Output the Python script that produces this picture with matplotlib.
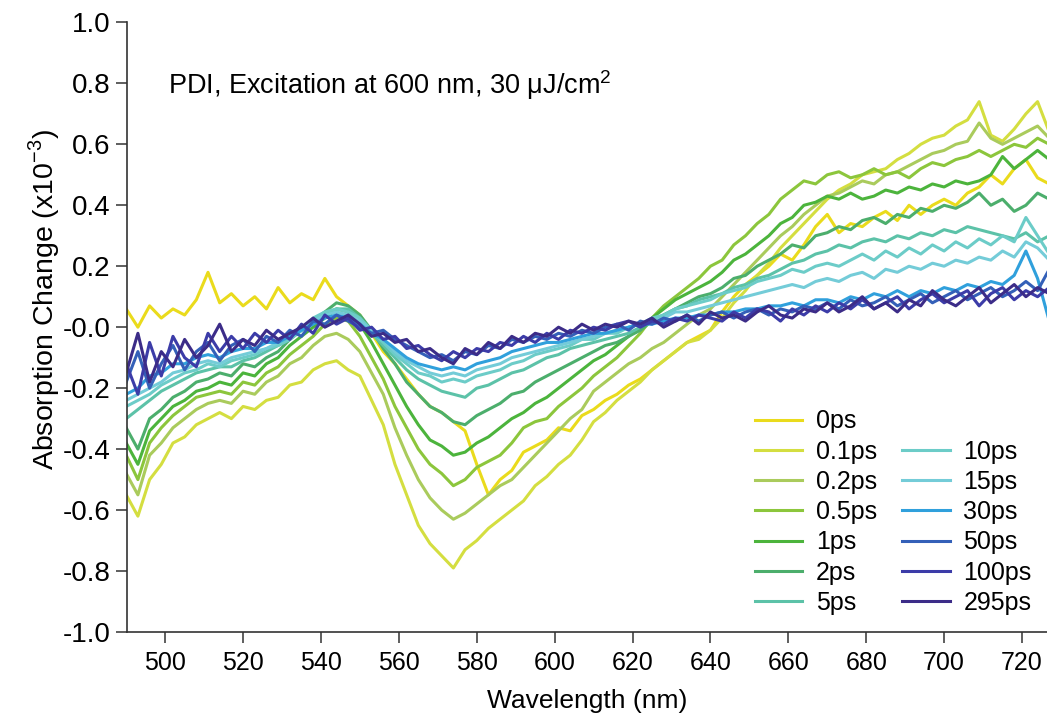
#!/usr/bin/env python3
"""
Transient absorption spectra of PDI at several pump-probe delays.
"""

import numpy as np
import matplotlib
matplotlib.use("Agg")
import matplotlib.pyplot as plt
from matplotlib.lines import Line2D

# probe wavelength grid (nm), 3 nm steps
wavelength = np.arange(490, 728, 3)

delays = ["0ps", "0.1ps", "0.2ps", "0.5ps", "1ps", "2ps", "5ps",
          "10ps", "15ps", "30ps", "50ps", "100ps", "295ps"]

colors = ["#EADB1C", "#D4DE40", "#AACB5C", "#8CC63C", "#4CB43C", "#4CAE6C", "#5CC2A8",
          "#6CCCC8", "#74CCD8", "#30A0DC", "#3460B8", "#3C3CA8", "#3C2C88"]

s_0ps = [0.06, 0.00, 0.07, 0.03, 0.06, 0.04, 0.09, 0.18, 0.08, 0.11,
         0.07, 0.10, 0.06, 0.13, 0.08, 0.11, 0.09, 0.16, 0.10, 0.07,
         0.04, -0.02, -0.08, -0.12, -0.17, -0.22, -0.26, -0.28, -0.31, -0.34,
         -0.45, -0.55, -0.50, -0.47, -0.41, -0.39, -0.37, -0.33, -0.34, -0.29,
         -0.27, -0.24, -0.22, -0.19, -0.17, -0.14, -0.11, -0.08, -0.05, -0.03,
         -0.01, 0.05, 0.10, 0.14, 0.17, 0.20, 0.24, 0.22, 0.27, 0.33,
         0.37, 0.31, 0.34, 0.33, 0.36, 0.38, 0.35, 0.40, 0.37, 0.40,
         0.42, 0.40, 0.44, 0.46, 0.50, 0.47, 0.52, 0.55, 0.49, 0.47]

s_01ps = [-0.55, -0.62, -0.50, -0.45, -0.38, -0.36, -0.32, -0.30, -0.28, -0.30,
          -0.26, -0.27, -0.24, -0.23, -0.19, -0.18, -0.14, -0.12, -0.11, -0.14,
          -0.16, -0.24, -0.32, -0.45, -0.55, -0.65, -0.71, -0.75, -0.79, -0.73,
          -0.70, -0.66, -0.63, -0.60, -0.57, -0.52, -0.49, -0.45, -0.42, -0.37,
          -0.31, -0.28, -0.24, -0.21, -0.18, -0.14, -0.11, -0.08, -0.05, -0.04,
          -0.01, 0.03, 0.08, 0.12, 0.17, 0.21, 0.26, 0.30, 0.34, 0.38,
          0.42, 0.45, 0.47, 0.50, 0.51, 0.52, 0.55, 0.57, 0.60, 0.62,
          0.63, 0.66, 0.68, 0.74, 0.63, 0.61, 0.65, 0.70, 0.74, 0.64]

s_02ps = [-0.48, -0.55, -0.42, -0.38, -0.33, -0.30, -0.27, -0.25, -0.24, -0.25,
          -0.21, -0.22, -0.18, -0.16, -0.12, -0.10, -0.06, -0.03, -0.02, -0.04,
          -0.08, -0.15, -0.22, -0.33, -0.42, -0.50, -0.56, -0.60, -0.63, -0.61,
          -0.58, -0.55, -0.52, -0.50, -0.46, -0.42, -0.38, -0.34, -0.30, -0.27,
          -0.21, -0.18, -0.15, -0.12, -0.10, -0.07, -0.05, -0.02, 0.01, 0.04,
          0.06, 0.10, 0.14, 0.18, 0.22, 0.26, 0.30, 0.33, 0.37, 0.40,
          0.43, 0.44, 0.46, 0.48, 0.47, 0.50, 0.51, 0.53, 0.55, 0.57,
          0.58, 0.60, 0.61, 0.67, 0.62, 0.60, 0.62, 0.64, 0.66, 0.62]

s_05ps = [-0.42, -0.50, -0.38, -0.33, -0.29, -0.26, -0.23, -0.22, -0.21, -0.22,
          -0.18, -0.19, -0.15, -0.13, -0.09, -0.06, -0.03, 0.01, 0.03, 0.02,
          -0.03, -0.10, -0.17, -0.26, -0.33, -0.40, -0.45, -0.48, -0.52, -0.50,
          -0.46, -0.44, -0.42, -0.38, -0.33, -0.31, -0.30, -0.26, -0.23, -0.20,
          -0.16, -0.13, -0.10, -0.06, -0.02, 0.03, 0.07, 0.10, 0.13, 0.16,
          0.20, 0.22, 0.27, 0.30, 0.34, 0.37, 0.42, 0.45, 0.48, 0.47,
          0.50, 0.51, 0.49, 0.50, 0.52, 0.50, 0.51, 0.49, 0.52, 0.54,
          0.53, 0.55, 0.56, 0.58, 0.56, 0.58, 0.60, 0.59, 0.62, 0.60]

s_1ps = [-0.38, -0.45, -0.34, -0.30, -0.26, -0.24, -0.21, -0.20, -0.18, -0.19,
         -0.15, -0.16, -0.12, -0.10, -0.06, -0.03, 0.00, 0.03, 0.06, 0.05,
         0.01, -0.05, -0.12, -0.19, -0.26, -0.32, -0.37, -0.39, -0.42, -0.41,
         -0.38, -0.36, -0.33, -0.30, -0.28, -0.25, -0.23, -0.20, -0.17, -0.14,
         -0.11, -0.09, -0.06, -0.03, 0.00, 0.03, 0.06, 0.09, 0.11, 0.13,
         0.15, 0.18, 0.22, 0.24, 0.27, 0.30, 0.34, 0.36, 0.40, 0.41,
         0.43, 0.42, 0.44, 0.42, 0.43, 0.45, 0.44, 0.46, 0.45, 0.47,
         0.46, 0.48, 0.47, 0.48, 0.50, 0.56, 0.52, 0.55, 0.58, 0.55]

s_2ps = [-0.33, -0.40, -0.30, -0.27, -0.23, -0.21, -0.18, -0.17, -0.15, -0.16,
         -0.12, -0.13, -0.10, -0.08, -0.04, -0.01, 0.02, 0.05, 0.08, 0.07,
         0.04, -0.01, -0.07, -0.12, -0.18, -0.22, -0.26, -0.28, -0.31, -0.32,
         -0.29, -0.27, -0.25, -0.22, -0.21, -0.18, -0.16, -0.14, -0.12, -0.10,
         -0.08, -0.06, -0.05, -0.03, -0.01, 0.02, 0.04, 0.06, 0.08, 0.10,
         0.11, 0.13, 0.16, 0.17, 0.20, 0.22, 0.24, 0.27, 0.26, 0.30,
         0.31, 0.33, 0.32, 0.35, 0.36, 0.34, 0.37, 0.36, 0.39, 0.38,
         0.40, 0.39, 0.41, 0.44, 0.40, 0.42, 0.38, 0.40, 0.44, 0.42]

s_5ps = [-0.30, -0.27, -0.24, -0.21, -0.19, -0.17, -0.15, -0.14, -0.13, -0.13,
         -0.11, -0.10, -0.08, -0.06, -0.04, -0.01, 0.02, 0.04, 0.06, 0.06,
         0.03, -0.02, -0.06, -0.10, -0.14, -0.17, -0.19, -0.21, -0.22, -0.23,
         -0.20, -0.19, -0.17, -0.15, -0.14, -0.12, -0.10, -0.09, -0.07, -0.06,
         -0.05, -0.04, -0.03, -0.02, 0.00, 0.02, 0.04, 0.06, 0.07, 0.09,
         0.10, 0.11, 0.13, 0.14, 0.16, 0.17, 0.19, 0.21, 0.22, 0.24,
         0.25, 0.27, 0.26, 0.28, 0.29, 0.28, 0.30, 0.29, 0.31, 0.30,
         0.32, 0.31, 0.33, 0.32, 0.31, 0.30, 0.29, 0.31, 0.28, 0.30]

s_10ps = [-0.26, -0.24, -0.22, -0.19, -0.17, -0.15, -0.14, -0.12, -0.13, -0.11,
          -0.10, -0.09, -0.07, -0.06, -0.04, -0.01, 0.03, 0.05, 0.06, 0.05,
          0.03, -0.01, -0.05, -0.09, -0.12, -0.15, -0.16, -0.18, -0.17, -0.18,
          -0.16, -0.15, -0.14, -0.12, -0.11, -0.09, -0.08, -0.07, -0.06, -0.04,
          -0.04, -0.02, -0.02, 0.00, 0.01, 0.03, 0.04, 0.06, 0.07, 0.08,
          0.09, 0.11, 0.12, 0.13, 0.15, 0.16, 0.17, 0.19, 0.18, 0.20,
          0.21, 0.20, 0.22, 0.24, 0.22, 0.25, 0.23, 0.26, 0.24, 0.27,
          0.25, 0.28, 0.26, 0.29, 0.27, 0.30, 0.28, 0.36, 0.30, 0.24]

s_15ps = [-0.24, -0.22, -0.20, -0.18, -0.15, -0.14, -0.12, -0.11, -0.12, -0.10,
          -0.09, -0.08, -0.07, -0.05, -0.03, -0.01, 0.02, 0.04, 0.05, 0.04,
          0.02, -0.01, -0.04, -0.08, -0.11, -0.13, -0.15, -0.16, -0.15, -0.16,
          -0.14, -0.13, -0.12, -0.10, -0.09, -0.08, -0.07, -0.06, -0.05, -0.04,
          -0.03, -0.02, -0.01, 0.00, 0.01, 0.02, 0.03, 0.05, 0.05, 0.06,
          0.07, 0.08, 0.09, 0.10, 0.11, 0.12, 0.13, 0.14, 0.13, 0.15,
          0.16, 0.15, 0.17, 0.18, 0.16, 0.19, 0.18, 0.20, 0.19, 0.21,
          0.20, 0.22, 0.21, 0.23, 0.22, 0.25, 0.23, 0.28, 0.26, 0.22]

s_30ps = [-0.22, -0.20, -0.16, -0.15, -0.12, -0.12, -0.10, -0.09, -0.10, -0.08,
          -0.07, -0.07, -0.05, -0.05, -0.03, -0.01, 0.01, 0.03, 0.04, 0.03,
          0.01, -0.02, -0.04, -0.07, -0.10, -0.12, -0.13, -0.14, -0.13, -0.14,
          -0.12, -0.11, -0.10, -0.08, -0.07, -0.06, -0.05, -0.05, -0.04, -0.03,
          -0.02, -0.02, -0.01, 0.00, 0.01, 0.01, 0.02, 0.03, 0.03, 0.04,
          0.04, 0.05, 0.05, 0.06, 0.06, 0.07, 0.07, 0.08, 0.07, 0.09,
          0.09, 0.08, 0.10, 0.09, 0.11, 0.10, 0.12, 0.10, 0.12, 0.11,
          0.13, 0.12, 0.14, 0.13, 0.15, 0.14, 0.17, 0.25, 0.16, 0.02]

s_50ps = [-0.18, -0.08, -0.20, -0.12, -0.06, -0.14, -0.08, -0.05, -0.11, -0.06,
          -0.04, -0.08, -0.03, -0.05, -0.01, -0.03, 0.02, 0.01, 0.04, 0.02,
          0.00, -0.02, -0.01, -0.04, -0.06, -0.08, -0.10, -0.09, -0.11, -0.08,
          -0.09, -0.06, -0.07, -0.04, -0.05, -0.03, -0.04, -0.02, -0.03, -0.01,
          -0.02, 0.00, 0.01, -0.01, 0.02, 0.01, 0.03, 0.02, 0.04, 0.02,
          0.04, 0.05, 0.03, 0.05, 0.06, 0.04, 0.06, 0.05, 0.07, 0.06,
          0.08, 0.06, 0.09, 0.07, 0.08, 0.10, 0.07, 0.09, 0.11, 0.08,
          0.10, 0.12, 0.09, 0.11, 0.13, 0.10, 0.12, 0.15, 0.12, 0.19]

s_100ps = [-0.12, -0.22, -0.05, -0.16, -0.03, -0.10, -0.13, -0.02, -0.08, -0.03,
           -0.07, -0.02, -0.05, -0.01, -0.04, 0.01, -0.02, 0.04, 0.01, 0.03,
           -0.01, 0.00, -0.04, -0.03, -0.07, -0.06, -0.09, -0.11, -0.08, -0.10,
           -0.07, -0.08, -0.05, -0.06, -0.03, -0.05, -0.02, -0.04, -0.01, -0.02,
           0.00, -0.01, 0.01, 0.02, 0.00, 0.02, 0.01, 0.03, 0.02, 0.04,
           0.03, 0.02, 0.05, 0.03, 0.06, 0.05, 0.02, 0.06, 0.04, 0.07,
           0.05, 0.08, 0.06, 0.09, 0.06, 0.08, 0.10, 0.06, 0.09, 0.11,
           0.08, 0.10, 0.12, 0.07, 0.11, 0.13, 0.09, 0.12, 0.10, 0.13]

s_295ps = [-0.15, -0.02, -0.18, -0.08, -0.13, -0.04, -0.10, -0.06, 0.01, -0.08,
           -0.04, -0.06, -0.01, -0.04, -0.02, 0.00, 0.03, 0.00, 0.02, 0.04,
           0.01, -0.03, -0.02, -0.05, -0.04, -0.08, -0.07, -0.10, -0.12, -0.07,
           -0.09, -0.05, -0.07, -0.03, -0.05, -0.02, -0.03, 0.00, -0.02, 0.01,
           -0.01, 0.01, 0.00, 0.02, 0.01, 0.03, 0.00, 0.02, 0.04, 0.01,
           0.05, 0.03, 0.04, 0.02, 0.05, 0.07, 0.04, 0.03, 0.06, 0.05,
           0.08, 0.05, 0.07, 0.10, 0.06, 0.08, 0.05, 0.09, 0.07, 0.12,
           0.09, 0.07, 0.10, 0.13, 0.08, 0.11, 0.14, 0.10, 0.13, 0.11]

spectra = [s_0ps, s_01ps, s_02ps, s_05ps, s_1ps, s_2ps, s_5ps,
           s_10ps, s_15ps, s_30ps, s_50ps, s_100ps, s_295ps]


def main():
    plt.rcParams['font.family'] = ['Liberation Sans', 'DejaVu Sans']
    plt.rcParams['axes.unicode_minus'] = False
    plt.rcParams['mathtext.fontset'] = 'custom'
    plt.rcParams['mathtext.rm'] = 'Liberation Sans'

    fig = plt.figure(figsize=(10.47, 7.13), dpi=100)
    ax = fig.add_axes([0.1213, 0.1136, 0.879, 0.855])

    handles = []
    for label, color, values in zip(delays, colors, spectra):
        line, = ax.plot(wavelength, values, color=color, lw=2.2, label=label)
        handles.append(line)

    ax.set_xlim(490.2, 726.5)
    ax.set_ylim(-1.0, 1.0)
    ax.set_xticks(np.arange(500, 721, 20))
    ax.set_yticks(np.arange(-1.0, 1.01, 0.2))
    ax.yaxis.set_major_formatter(matplotlib.ticker.FormatStrFormatter('%.1f'))

    for side in ['top', 'right']:
        ax.spines[side].set_visible(False)
    for side in ['left', 'bottom']:
        ax.spines[side].set_color('#333333')
        ax.spines[side].set_linewidth(1.2)
    ax.tick_params(direction='out', length=8, width=1.1, color='#333333')
    ax.tick_params(axis='y', labelsize=20, pad=4)
    ax.tick_params(axis='x', labelsize=18, pad=6)

    ax.set_xlabel('Wavelength (nm)', fontsize=19, labelpad=10)
    ax.set_ylabel('Absorption Change (x10$^{\\mathrm{-3}}$)', fontsize=20.5)
    ax.yaxis.set_label_coords(-0.071, 0.545)

    ax.text(0.045, 0.897, 'PDI, Excitation at 600 nm, 30 \u03bcJ/cm$^{\\mathrm{2}}$',
            transform=ax.transAxes, fontsize=19.5, va='center', ha='left')

    # blank entry so the right legend column sits at the bottom
    blank = Line2D([], [], color='none')
    leg_handles = handles[:7] + [blank] + handles[7:]
    leg_labels = delays[:7] + [''] + delays[7:]
    ax.legend(leg_handles, leg_labels, ncol=2, frameon=False, fontsize=18,
              loc='lower left', bbox_to_anchor=(0.709, 0.120),
              bbox_transform=fig.transFigure, borderpad=0,
              handlelength=1.9, handletextpad=0.55, columnspacing=1.0,
              labelspacing=0.25)

    fig.savefig('out.png', dpi=100)


if __name__ == "__main__":
    main()
